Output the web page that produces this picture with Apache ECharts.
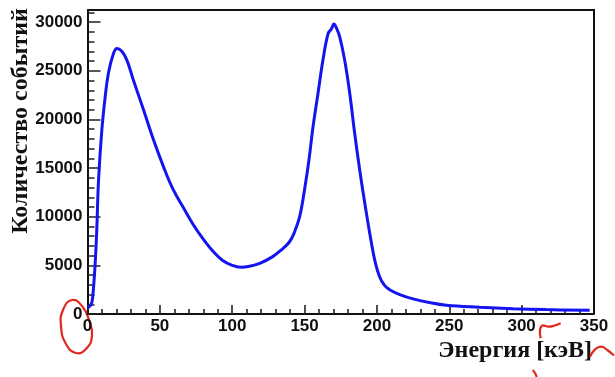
<!DOCTYPE html>
<html>
<head>
<meta charset="utf-8">
<script src="https://cdn.jsdelivr.net/npm/echarts@6/dist/echarts.min.js"></script>
<style>
  html, body { margin: 0; padding: 0; background: #fff; }
  #chart { width: 615px; height: 377px; }
</style>
</head>
<body>
<div id="chart"></div>
<script>
// Energy spectrum: counts per energy (keV)
const energy = [0, 1.5, 3, 4, 5.3, 6.4, 7.6, 9.9, 12.2, 14.5, 18, 20.3, 23.7, 27.2, 31.8,
  38.7, 45.6, 52.6, 59.5, 66.4, 73, 80, 87, 93.4, 100, 106, 112, 119, 128, 134, 139.5,
  143, 146.6, 150, 153, 155.8, 159.3, 162.7, 166.2, 168.5, 170.3, 172, 174.3, 177.7, 181.2,
  184.6, 188.1, 191.6, 196.2, 199, 201.9, 205, 208.8, 215.8, 225, 237, 248, 271, 294,
  317, 347];
const counts = [700, 800, 1200, 2400, 5200, 8600, 13700, 18900, 22300, 24800, 26800, 27300,
  27000, 26100, 24000, 21000, 17900, 15100, 12700, 10900, 9200, 7700, 6400, 5500, 5000,
  4800, 4900, 5200, 5900, 6600, 7400, 8400, 10000, 12800, 15800, 19200, 22700, 26100,
  28800, 29300, 29800, 29400, 28500, 26100, 22700, 18600, 14800, 11400, 7300, 5200, 3800,
  3000, 2500, 2000, 1550, 1150, 900, 700, 550, 450, 380];

const xRange = [0, 350];
const yRange = [0, 31250];

const xTitle = 'Энергия [кэВ]';
const yTitle = 'Количество событий';

const spectrum = energy.map((e, i) => [e, counts[i]]);

const chart = echarts.init(document.getElementById('chart'), null, { renderer: 'canvas' });

const labelFont = { fontFamily: '"Liberation Sans", Arial, sans-serif', fontWeight: 'bold', fontSize: 17, color: '#111' };
const titleFont = 'bold 24px "Liberation Serif", "Times New Roman", serif';
const ink = '#e0281e';
const penStyle = { fill: null, stroke: ink, lineWidth: 2.2 };
const tickStyle = { color: '#222', width: 1.5 };
const plain = v => String(v);

chart.setOption({
  animation: false,
  backgroundColor: '#fff',
  grid: { left: 87.5, right: 21, top: 10, bottom: 63, containLabel: false },
  xAxis: {
    type: 'value', min: xRange[0], max: xRange[1], interval: 50,
    axisLine: { show: true, onZero: false, lineStyle: { color: '#111', width: 2 } },
    axisTick: { show: true, inside: true, length: 9, lineStyle: { color: '#222', width: 1.6 } },
    minorTick: { show: true, splitNumber: 5, length: 5, lineStyle: { color: '#222', width: 1.6 } },
    splitLine: { show: false },
    axisLabel: Object.assign({ margin: 4, formatter: plain }, labelFont)
  },
  yAxis: {
    type: 'value', min: yRange[0], max: yRange[1], interval: 5000,
    axisLine: { show: true, lineStyle: { color: '#111', width: 2 } },
    axisTick: { show: true, inside: true, length: 13, lineStyle: tickStyle },
    minorTick: { show: true, splitNumber: 5, length: 7, lineStyle: tickStyle },
    splitLine: { show: false },
    axisLabel: Object.assign({ margin: 5, showMaxLabel: false, formatter: plain }, labelFont)
  },
  series: [{
    type: 'line',
    data: spectrum,
    showSymbol: false,
    smooth: 0.4,
    lineStyle: { color: '#1414f0', width: 3 },
    z: 3
  }]
});

// Frame around the plotting area, taken from the grid's own scales
const lo = chart.convertToPixel({ gridIndex: 0 }, [xRange[0], yRange[0]]);
const hi = chart.convertToPixel({ gridIndex: 0 }, [xRange[1], yRange[1]]);

chart.setOption({
  graphic: [
    {
      type: 'polyline', silent: true, z: 1,
      shape: { points: [[lo[0], hi[1]], [hi[0], hi[1]], [hi[0], lo[1]]] },
      style: { fill: null, stroke: '#111', lineWidth: 2 }
    },
    {
      type: 'text', x: 21, y: 121, rotation: Math.PI / 2,
      style: { text: yTitle, font: titleFont, fill: '#111', textAlign: 'center', textVerticalAlign: 'middle' }
    },
    {
      type: 'text', x: 592, y: 351,
      style: { text: xTitle, font: titleFont, fill: '#111', textAlign: 'right', textVerticalAlign: 'middle' }
    },
    // hand-drawn red pen marks
    {
      type: 'polygon', silent: true,
      shape: { points: [[72, 300], [63, 310], [61, 326], [66, 344], [76, 353], [86, 349], [92, 336], [89, 320], [82, 306]], smooth: 0.5 },
      style: penStyle
    },
    {
      type: 'polyline', silent: true,
      shape: { points: [[540.7, 338.3], [540, 330], [542.5, 325.5], [548.3, 326.7], [554, 325.8], [560.7, 323.3]], smooth: 0.4 },
      style: penStyle
    },
    {
      type: 'polyline', silent: true,
      shape: { points: [[590, 356.7], [595, 349.3], [601.7, 346.7], [607.3, 350], [614, 355.5]], smooth: 0.4 },
      style: penStyle
    },
    {
      type: 'polyline', silent: true,
      shape: { points: [[532.7, 370], [535, 373], [536.7, 377]], smooth: 0.4 },
      style: penStyle
    }
  ]
});
</script>
</body>
</html>
